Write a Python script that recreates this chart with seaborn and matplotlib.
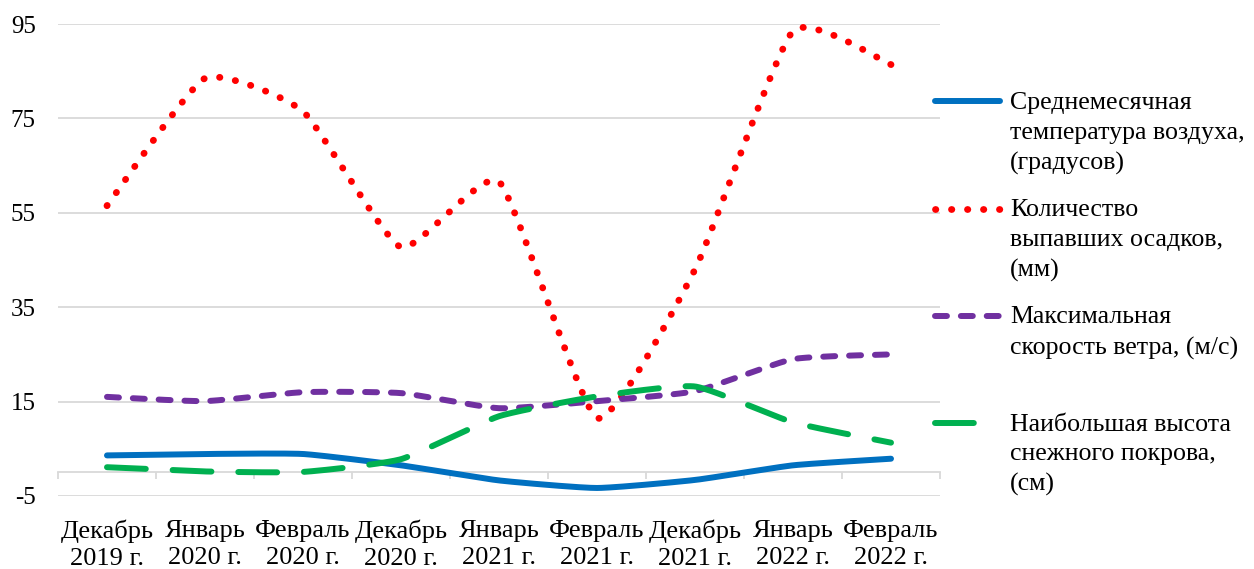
import numpy as np
import matplotlib
matplotlib.use("Agg")
import matplotlib.pyplot as plt
import seaborn as sns

# Месяцы наблюдений
categories = ["Декабрь\n2019 г.", "Январь\n2020 г.", "Февраль\n2020 г.",
              "Декабрь\n2020 г.", "Январь\n2021 г.", "Февраль\n2021 г.",
              "Декабрь\n2021 г.", "Январь\n2022 г.", "Февраль\n2022 г."]

# Показатели по месяцам
temperature = [3.6, 3.9, 3.9, 1.5, -1.7, -3.3, -1.6, 1.5, 2.9]
precipitation = [56.5, 83.5, 76.5, 47.7, 61.6, 11.5, 43.0, 93.5, 86.4]
wind_speed = [16.0, 15.1, 17.0, 16.8, 13.6, 15.1, 17.2, 24.0, 25.0]
snow_depth = [1.1, 0.2, 0.1, 2.8, 11.9, 16.1, 18.2, 10.6, 6.3]

labels = ["Среднемесячная\nтемпература воздуха,\n(градусов)",
          "Количество\nвыпавших осадков,\n(мм)",
          "Максимальная\nскорость ветра, (м/с)\n",
          "Наибольшая высота\nснежного покрова,\n(см)"]

y_ticks = [-5, 15, 35, 55, 75, 95]

sns.set_theme(style="white")
plt.rcParams["font.family"] = ["Liberation Serif", "DejaVu Serif"]
plt.rcParams["axes.unicode_minus"] = False
plt.rcParams["text.color"] = "black"
plt.rcParams["xtick.color"] = "black"
plt.rcParams["ytick.color"] = "black"

# pixel size of one category step and of one value unit, used for smoothing
X_PX, Y_PX = 98.0, 4.717


def smooth(values, steps=40, tension=0.5):
    """Bezier-smoothed line through the category points (short control arms)."""
    pts = np.column_stack([np.arange(len(values), dtype=float) * X_PX,
                           np.asarray(values, float) * Y_PX])
    n = len(pts)
    t = np.linspace(0, 1, steps)[:, None]
    out = [pts[:1]]
    for i in range(n - 1):
        p0 = pts[max(i - 1, 0)]
        p1 = pts[i]
        p2 = pts[i + 1]
        p3 = pts[min(i + 2, n - 1)]
        c1 = p1 + tension * (p2 - p0) / 6
        c2 = p2 - tension * (p3 - p1) / 6
        seg = ((1 - t) ** 3) * p1 + 3 * ((1 - t) ** 2) * t * c1 \
            + 3 * (1 - t) * t ** 2 * c2 + t ** 3 * p2
        out.append(seg[1:])
    curve = np.vstack(out)
    return curve[:, 0] / X_PX, curve[:, 1] / Y_PX


fig = plt.figure(figsize=(12.54, 5.69), dpi=100)
ax = fig.add_axes([0.04625, 0.1283, 0.70335, 0.82952])

series = [
    (temperature, "#0070C0", 4.3, "-"),
    (precipitation, "#FF0000", 4.9, (0, (0.05, 2.3))),
    (wind_speed, "#7030A0", 4.3, (0, (2.0, 2.33))),
    (snow_depth, "#00B050", 4.3, (0, (6.5, 4.5))),
]

for values, color, lw, ls in series:
    xs, ys = smooth(values)
    sns.lineplot(x=xs, y=ys, ax=ax, color=color, linewidth=lw, linestyle=ls,
                 sort=False, estimator=None,
                 dash_capstyle="round", solid_capstyle="round")

ax.set_xlim(-0.5, len(categories) - 0.5)
ax.set_ylim(y_ticks[0], y_ticks[-1])
ax.set_yticks(y_ticks)
ax.set_xticks(range(len(categories)), categories)
ax.tick_params(axis="x", length=0, pad=17, labelsize=19)
ax.tick_params(axis="y", length=0, pad=16, labelsize=18)
for lab in ax.get_xticklabels():
    lab.set_linespacing(1.3)
ax.yaxis.grid(True, color="#d9d9d9", linewidth=1.3)
ax.xaxis.grid(False)
ax.set_axisbelow(True)
for sp in ax.spines.values():
    sp.set_visible(False)

# Horizontal category axis crossing at zero
sec = ax.secondary_xaxis(0, transform=ax.transData)
sec.set_xticks(np.arange(-0.5, len(categories), 1.0))
sec.set_xticklabels([])
sec.tick_params(axis="x", length=5, width=1.3, color="#d9d9d9", direction="out")
sec.spines["bottom"].set_color("#d9d9d9")
sec.spines["bottom"].set_linewidth(1.3)

handles = ax.lines[:4]
leg = ax.legend(handles, labels, loc="upper left",
                bbox_to_anchor=(935 / 1254, 1 - 92 / 569),
                bbox_transform=fig.transFigure, frameon=False,
                borderpad=0, borderaxespad=0, handlelength=2.5,
                handleheight=0.8, handletextpad=0.4, labelspacing=0.95,
                fontsize=18.6)
for t in leg.get_texts():
    t.set_linespacing(1.45)
for col in leg._legend_handle_box.get_children():
    for item in col.get_children():
        item.align = "top"

fig.savefig("out.png", dpi=100)
